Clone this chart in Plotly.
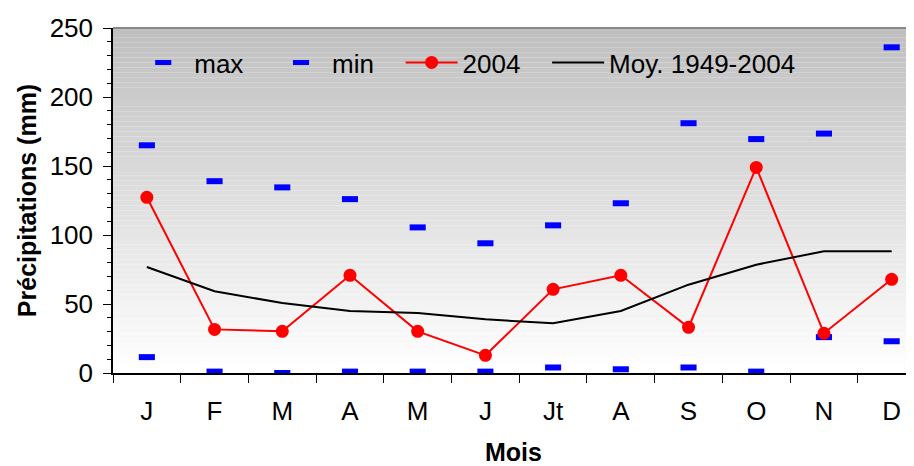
import plotly.graph_objects as go

mois = ["J", "F", "M", "A", "M ", "J ", "Jt", "A ", "S", "O", "N", "D"]
mois_labels = ["J", "F", "M", "A", "M", "J", "Jt", "A", "S", "O", "N", "D"]
pluie_max = [165, 139, 134.5, 126, 105.5, 94, 107, 123, 181, 169.5, 173.5, 236]
pluie_min = [11.5, 1, 0, 1, 1, 1, 4, 2.7, 4, 1, 26, 23]
pluie_2004 = [127.3, 31.6, 30.2, 70.8, 30.2, 12.8, 60.6, 70.8, 33.1, 149, 28.8, 67.9]
moy_1949_2004 = [76.8, 59.2, 50.7, 44.9, 43.5, 38.9, 36, 44.9, 64, 78.5, 88.2, 88.2]

police = "Liberation Sans, Arial, sans-serif"
esp = "\u00a0" * 3  # un peu d'air entre les entrées de légende

fig = go.Figure()

fig.add_trace(go.Scatter(
    x=mois, y=pluie_max, name="max" + esp, mode="markers",
    marker=dict(symbol="line-ew", size=11.5, color="blue",
                line=dict(color="blue", width=6)),
))
fig.add_trace(go.Scatter(
    x=mois, y=pluie_min, name="min" + esp, mode="markers",
    marker=dict(symbol="line-ew", size=11.5, color="blue",
                line=dict(color="blue", width=6)),
))
fig.add_trace(go.Scatter(
    x=mois, y=pluie_2004, name="2004" + esp, mode="lines+markers",
    line=dict(color="red", width=2),
    marker=dict(symbol="circle", size=13, color="red"),
))
fig.add_trace(go.Scatter(
    x=mois, y=moy_1949_2004, name="Moy. 1949-2004", mode="lines",
    line=dict(color="black", width=2),
))

# fond en dégradé gris -> blanc (bandes horizontales)
n = 70
formes = []
for i in range(n):
    t = (i + 0.5) / n  # 0 en bas, 1 en haut
    c = int(round(255 - 64 * t))
    formes.append(dict(
        type="rect", xref="paper", yref="paper",
        x0=0, x1=1, y0=i / n, y1=(i + 1) / n,
        fillcolor=f"rgb({c},{c},{c})", line=dict(width=0), layer="below",
    ))
formes.append(dict(
    type="line", xref="paper", yref="paper", x0=0, x1=1, y0=1, y1=1,
    line=dict(color="#888888", width=2), layer="below",
))

# la page ajoute une marge de 8 px : la figure fait donc 906x458
fig.update_layout(
    width=906, height=458,
    margin=dict(l=105, r=0, t=20, b=93),
    paper_bgcolor="white",
    plot_bgcolor="white",
    font=dict(family=police, size=26, color="black"),
    shapes=formes,
    showlegend=True,
    legend=dict(
        orientation="h", x=0.024, y=0.90, xanchor="left", yanchor="middle",
        bgcolor="rgba(0,0,0,0)", font=dict(size=26),
        itemwidth=52,
    ),
)

fig.update_xaxes(
    type="category",
    categoryorder="array", categoryarray=mois,
    tickvals=mois, ticktext=mois_labels,
    range=[-0.5, 11.33],
    tickson="boundaries",
    ticks="outside", ticklen=8, tickcolor="black", tickwidth=1,
    ticklabelstandoff=14,
    showline=True, linecolor="black", linewidth=1.5,
    showgrid=False, zeroline=False, automargin=False,
    tickfont=dict(size=26),
    title=dict(text="<b>Mois</b>", font=dict(size=25), standoff=32),
)

fig.update_yaxes(
    range=[0, 250], dtick=50,
    ticks="outside", ticklen=8, tickcolor="black", tickwidth=1,
    ticklabelstandoff=5,
    minor=dict(dtick=10, ticks="outside", ticklen=4, tickcolor="black", showgrid=False),
    showline=True, linecolor="black", linewidth=1.5,
    showgrid=False, zeroline=False, automargin=False,
    tickfont=dict(size=26),
    title=dict(text="<b>Précipitations (mm)</b>", font=dict(size=25), standoff=6),
)

fig.write_html("out.html")
